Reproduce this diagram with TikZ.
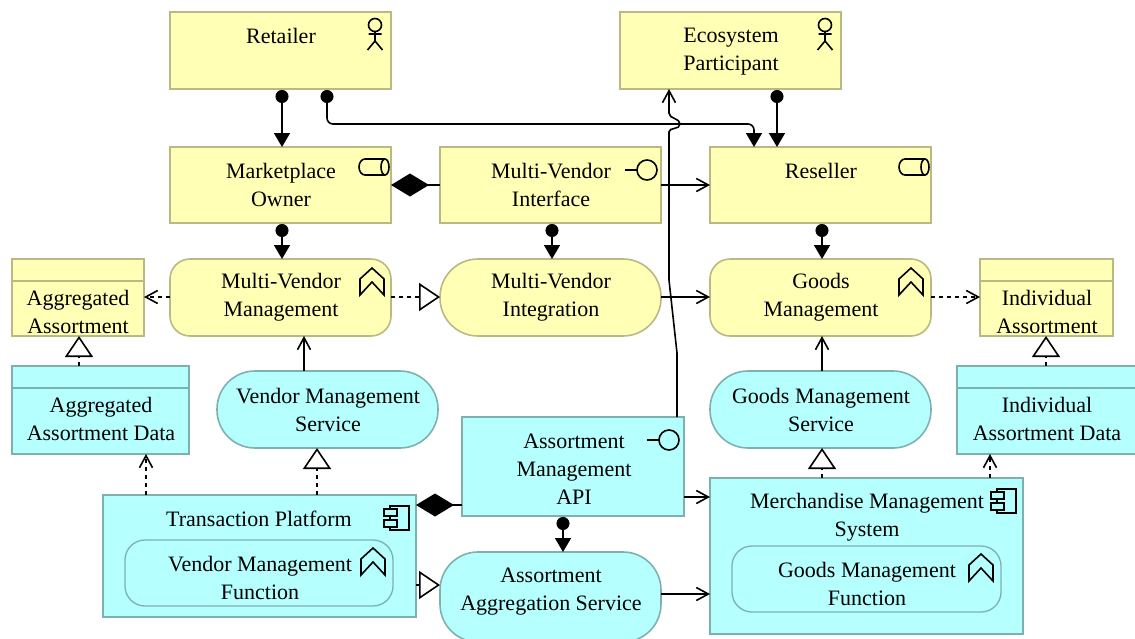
\documentclass[tikz,border=0pt]{standalone}
\usepackage{fontspec}
\setmainfont{Liberation Serif}
\usetikzlibrary{arrows.meta,calc}
\definecolor{ybg}{HTML}{FFFFB5}
\definecolor{yln}{HTML}{B9B983}
\definecolor{cbg}{HTML}{B5FFFF}
\definecolor{cln}{HTML}{7FB0B0}
\tikzset{
 el/.style={draw,line width=1.6pt,outer sep=0pt,inner sep=0pt,anchor=north west},
 yel/.style={el,fill=ybg,draw=yln},
 cyn/.style={el,fill=cbg,draw=cln},
 txt/.style={align=center,font=\fontsize{22}{28}\selectfont,inner sep=0pt},
 conn/.style={line width=1.6pt,black},
 icon/.style={line width=1.6pt,black,fill=none,line join=miter},
 dotted line/.style={dash pattern=on 4pt off 4pt},
 tri/.style={-{Triangle[open,fill=white,length=21pt,width=28pt,line width=1.6pt]}},
 opn/.style={-{Straight Barb[length=12pt,width=13pt,line width=1.6pt]}},
 asg/.style={{Circle[length=13pt,width=13pt]}-{Triangle[length=14pt,width=16pt]},shorten <=1pt},
 cmp/.style={{Diamond[length=38pt,width=23pt]}-},
}
\newcommand{\boxel}[6]{\node[#1,minimum width=#4-#3,minimum height=#6-#5] (#2) at (#3,#5) {};}
\newcommand{\actoricon}[2]{\begin{scope}[shift={(#1,#2)}]
 \draw[icon] (0,-8) circle (6.5); \draw[icon] (0,-1.5)--(0,8) (-6.5,1)--(6.5,1) (-7.5,17)--(0,8)--(7.5,17);
 \end{scope}}
\newcommand{\svcicon}[2]{\begin{scope}[shift={(#1,#2)}]
 \draw[icon] (-9,-8) -- (11,-8) arc (-90:90:4 and 8) -- (-9,8) arc (90:270:6 and 8) -- cycle;
 \draw[icon] (11,-8) arc (-90:-270:4 and 8);
 \end{scope}}
\newcommand{\lolli}[2]{\begin{scope}[shift={(#1,#2)}]
 \draw[icon] (0,0) circle (10); \draw[icon] (-10,0)--(-22,0);
 \end{scope}}
\newcommand{\chevicon}[2]{\begin{scope}[shift={(#1,#2)}]
 \draw[icon] (-12,-3)--(0,-14)--(12,-3)--(12,13)--(0,0)--(-12,13)--cycle;
 \end{scope}}
\newcommand{\compicon}[2]{\begin{scope}[shift={(#1,#2)}]
 \draw[icon] (-7,-12)--(12,-12)--(12,12)--(-7,12)--cycle;
 \draw[icon,fill=cbg] (-13,-9) rectangle (0,-2);
 \draw[icon,fill=cbg] (-13,2) rectangle (0,9);
 \end{scope}}
\begin{document}
\begin{tikzpicture}[x=1pt,y=-1pt]
\useasboundingbox (0,0) rectangle (1135,638);
\boxel{yel}{retailer}{170}{391}{12}{89}
\node[txt] (tretailer) at (281,36) {Retailer};
\actoricon{375}{33}
\boxel{yel}{eco}{620}{841}{12}{89}
\node[txt] (teco) at (731,52) {Ecosystem\\Participant};
\actoricon{825}{33}
\boxel{yel}{owner}{170}{391}{147}{223}
\node[txt] (towner) at (281,184.5) {Marketplace\\Owner};
\svcicon{374}{167}
\boxel{yel}{mvi}{440}{661}{147}{223}
\node[txt] (tmvi) at (551,184.5) {Multi-Vendor\\Interface};
\lolli{647}{170}
\boxel{yel}{reseller}{710}{931}{147}{223}
\node[txt] (treseller) at (821,171) {Reseller};
\svcicon{914}{167}
\boxel{yel}{aggd}{12}{144}{259}{336}
\draw[yln,line width=1.4pt] ($(aggd.north west)+(0,22)$) -- ($(aggd.north east)+(0,22)$);
\node[txt] (taggd) at (78,312) {Aggregated\\Assortment};
\boxel{yel,rounded corners=20pt}{mvm}{170}{391}{259}{336}
\node[txt] (tmvm) at (281,297.5) {Multi-Vendor\\Management};
\chevicon{372}{282}
\boxel{yel,rounded corners=38pt}{mvint}{440}{661}{259}{336}
\node[txt] (tmvint) at (551,297.5) {Multi-Vendor\\Integration};
\boxel{yel,rounded corners=20pt}{gm}{710}{931}{259}{336}
\node[txt] (tgm) at (821,297.5) {Goods\\Management};
\chevicon{911}{282}
\boxel{yel}{indd}{980}{1113}{259}{336}
\draw[yln,line width=1.4pt] ($(indd.north west)+(0,22)$) -- ($(indd.north east)+(0,22)$);
\node[txt] (tindd) at (1047,312) {Individual\\Assortment};
\boxel{cyn}{aggdat}{12}{189}{366}{454}
\draw[cln,line width=1.4pt] ($(aggdat.north west)+(0,22)$) -- ($(aggdat.north east)+(0,22)$);
\node[txt] (taggdat) at (101,419) {Aggregated\\Assortment Data};
\boxel{cyn,rounded corners=38pt}{vms}{217}{438}{371}{448}
\node[txt] (tvms) at (328,410) {Vendor Management\\Service};
\boxel{cyn}{api}{462}{684}{417}{516}
\node[txt] (tapi) at (574,469.5) {Assortment\\Management\\API};
\lolli{669}{440}
\boxel{cyn,rounded corners=38pt}{gms}{710}{931}{371}{448}
\node[txt] (tgms) at (821,410) {Goods Management\\Service};
\boxel{cyn}{inddat}{957}{1140}{366}{454}
\draw[cln,line width=1.4pt] ($(inddat.north west)+(0,22)$) -- ($(inddat.north east)+(0,22)$);
\node[txt] (tinddat) at (1047,419) {Individual\\Assortment Data};
\boxel{cyn}{tp}{103}{416}{495}{617}
\node[txt] (ttp) at (259,519) {Transaction Platform};
\compicon{397}{518}
\boxel{cyn,rounded corners=20pt,line width=1.3pt}{vmf}{125}{393}{540}{606}
\node[txt] (tvmf) at (260,578) {Vendor Management\\Function};
\chevicon{373}{562}
\boxel{cyn}{mms}{710}{1023}{478}{634}
\node[txt] (tmms) at (867,517.5) {Merchandise Management\\System};
\compicon{1004}{501}
\boxel{cyn,rounded corners=20pt,line width=1.3pt}{gmf}{732}{1001}{546}{612}
\node[txt] (tgmf) at (867,584) {Goods Management\\Function};
\chevicon{981}{568}
\boxel{cyn,rounded corners=38pt}{aas}{440}{661}{552}{642}
\node[txt] (taas) at (551,592) {Assortment\\Aggregation Service};
% assignment
\draw[conn,asg] (282,0 |- retailer.south) -- (282,0 |- owner.north);
\draw[conn,asg] (777,0 |- eco.south) -- (777,0 |- reseller.north);
\draw[conn,asg,rounded corners=6pt] (327,0 |- retailer.south) -- (327,124) -- (754,124) -- (754,0 |- reseller.north);
\draw[conn,asg] (282,0 |- owner.south) -- (282,0 |- mvm.north);
\draw[conn,asg] (552,0 |- mvi.south) -- (552,0 |- mvint.north);
\draw[conn,asg] (822,0 |- reseller.south) -- (822,0 |- gm.north);
\draw[conn,asg] (563,0 |- api.south) -- (563,0 |- aas.north);
% composition
\draw[conn,cmp] (owner.east |- 0,185) -- (mvi.west |- 0,185);
\draw[conn,cmp] (tp.east |- 0,505) -- (api.west |- 0,505);
% serving
\draw[conn,opn] (mvi.east |- 0,185) -- (reseller.west |- 0,185);
\draw[conn,opn] (mvint.east |- 0,297) -- (gm.west |- 0,297);
\draw[conn,opn] (304,0 |- vms.north) -- (304,0 |- mvm.south);
\draw[conn,opn] (822,0 |- gms.north) -- (822,0 |- gm.south);
\draw[conn,opn] (api.east |- 0,497) -- (mms.west |- 0,497);
\draw[conn,opn] (aas.east |- 0,594) -- (mms.west |- 0,594);
\draw[conn,opn] (677,0 |- api.north) -- (677,353) -- (669,280) -- (669,132) .. controls (669,127) and (680,130) .. (680,124) .. controls (680,118) and (669,119) .. (669,113) -- (669,0 |- eco.south);
% access
\draw[conn,opn,dotted line] (mvm.west |- 0,297) -- (aggd.east |- 0,297);
\draw[conn,opn,dotted line] (gm.east |- 0,297) -- (indd.west |- 0,297);
\draw[conn,opn,dotted line] (146,0 |- tp.north) -- (146,0 |- aggdat.south);
\draw[conn,opn,dotted line] (990,0 |- mms.north) -- (990,0 |- inddat.south);
% realization
\draw[conn,tri,dotted line] (mvm.east |- 0,297) -- (mvint.west |- 0,297);
\draw[conn,tri,dotted line] (79,0 |- aggdat.north) -- (79,0 |- aggd.south);
\draw[conn,tri,dotted line] (317,0 |- tp.north) -- (317,0 |- vms.south);
\draw[conn,tri,dotted line] (822,0 |- mms.north) -- (822,0 |- gms.south);
\draw[conn,tri,dotted line] (1046,0 |- inddat.north) -- (1046,0 |- indd.south);
\draw[conn,tri,dotted line] (tp.east |- 0,585) -- (aas.west |- 0,585);
\end{tikzpicture}
\end{document}
